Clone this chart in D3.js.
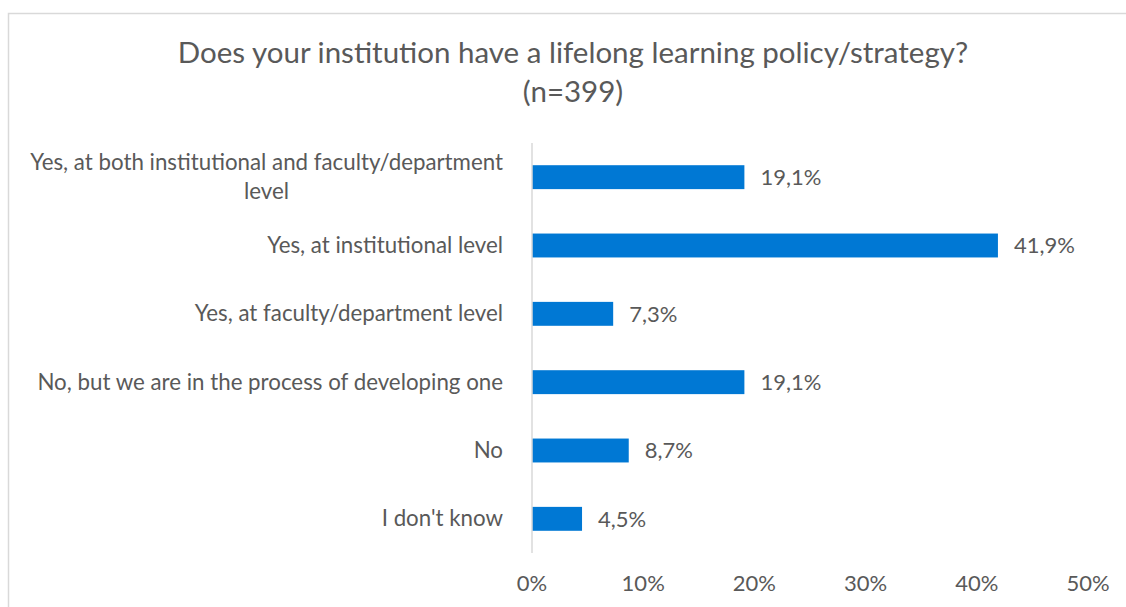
<!DOCTYPE html>
<html>
<head>
<meta charset="utf-8">
<script src="https://cdn.jsdelivr.net/npm/d3@7"></script>
<style>
  body { margin: 0; background: #fff; }
  text { font-family: Lato, "Open Sans", sans-serif; fill: #595959; }
</style>
</head>
<body>
<svg id="chart" width="1126" height="607"></svg>
<script>
// data
const categories = [
  ["Yes, at both institutional and faculty/department", "level"],
  ["Yes, at institutional level"],
  ["Yes, at faculty/department level"],
  ["No, but we are in the process of developing one"],
  ["No"],
  ["I don't know"]
];
const values = [19.1, 41.9, 7.3, 19.1, 8.7, 4.5];
const ticks = [0, 10, 20, 30, 40, 50];
const titleLines = ["Does your institution have a lifelong learning policy/strategy?", "(n=399)"];

const svg = d3.select("#chart");
const W = 1126, H = 607;

// chart border (only top + left show in the frame)
svg.append("rect")
  .attr("x", 8.5).attr("y", 13.5)
  .attr("width", W + 10).attr("height", H + 10)
  .attr("fill", "none")
  .attr("stroke", "#d9d9d9")
  .attr("stroke-width", 1.5);

const margin = { left: 532, right: 38, top: 143, bottom: 54 };

const x = d3.scaleLinear()
  .domain([0, 50])
  .range([margin.left, W - margin.right]);

const y = d3.scaleBand()
  .domain(d3.range(values.length))
  .range([margin.top, H - margin.bottom])
  .paddingInner(0.65)
  .paddingOuter(0.325);

// title
svg.append("g").selectAll("text")
  .data(titleLines)
  .enter()
  .append("text")
  .attr("x", 573)
  .attr("y", function (d, i) { return 63 + i * 39; })
  .attr("text-anchor", "middle")
  .style("font-size", "29.5px")
  .text(function (d) { return d; });

// bars
svg.append("g").selectAll("rect")
  .data(values)
  .enter()
  .append("rect")
  .attr("x", x(0))
  .attr("y", function (d, i) { return y(i); })
  .attr("width", function (d) { return x(d) - x(0); })
  .attr("height", y.bandwidth())
  .attr("fill", "#0078d4");

// axis line
svg.append("line")
  .attr("x1", x(0)).attr("x2", x(0))
  .attr("y1", margin.top).attr("y2", H - margin.bottom)
  .attr("stroke", "#d9d9d9")
  .attr("stroke-width", 1.5);

// value labels
svg.append("g").selectAll("text")
  .data(values)
  .enter()
  .append("text")
  .attr("x", function (d) { return x(d) + 16; })
  .attr("y", function (d, i) { return y(i) + y.bandwidth() / 2; })
  .attr("dy", "0.35em")
  .style("font-size", "22px")
  .text(function (d) { return d3.format(".1f")(d).replace(".", ",") + "%"; });

// category labels
const cat = svg.append("g").selectAll("text")
  .data(categories)
  .enter()
  .append("text")
  .attr("y", function (d, i) { return y(i) + y.bandwidth() / 2; })
  .style("font-size", "22.3px");

cat.each(function (lines) {
  const t = d3.select(this);
  const lh = 29;
  const off = -(lines.length - 1) * lh / 2;
  lines.forEach(function (ln, j) {
    t.append("tspan")
      .attr("x", 503)
      .attr("dy", j === 0 ? (off + 7.5) : lh)
      .attr("text-anchor", "end")
      .text(ln);
  });
});

// center the second line of the wrapped label under the first
cat.filter(function (d) { return d.length > 1; }).each(function () {
  const spans = d3.select(this).selectAll("tspan").nodes();
  const w0 = spans[0].getComputedTextLength();
  const cx = 503 - w0 / 2;
  for (let k = 1; k < spans.length; k++) {
    d3.select(spans[k]).attr("x", cx).attr("text-anchor", "middle");
  }
});

// x axis tick labels
svg.append("g").selectAll("text")
  .data(ticks)
  .enter()
  .append("text")
  .attr("x", function (d) { return x(d); })
  .attr("y", 591)
  .attr("text-anchor", "middle")
  .style("font-size", "22px")
  .text(function (d) { return d + "%"; });
</script>
</body>
</html>
